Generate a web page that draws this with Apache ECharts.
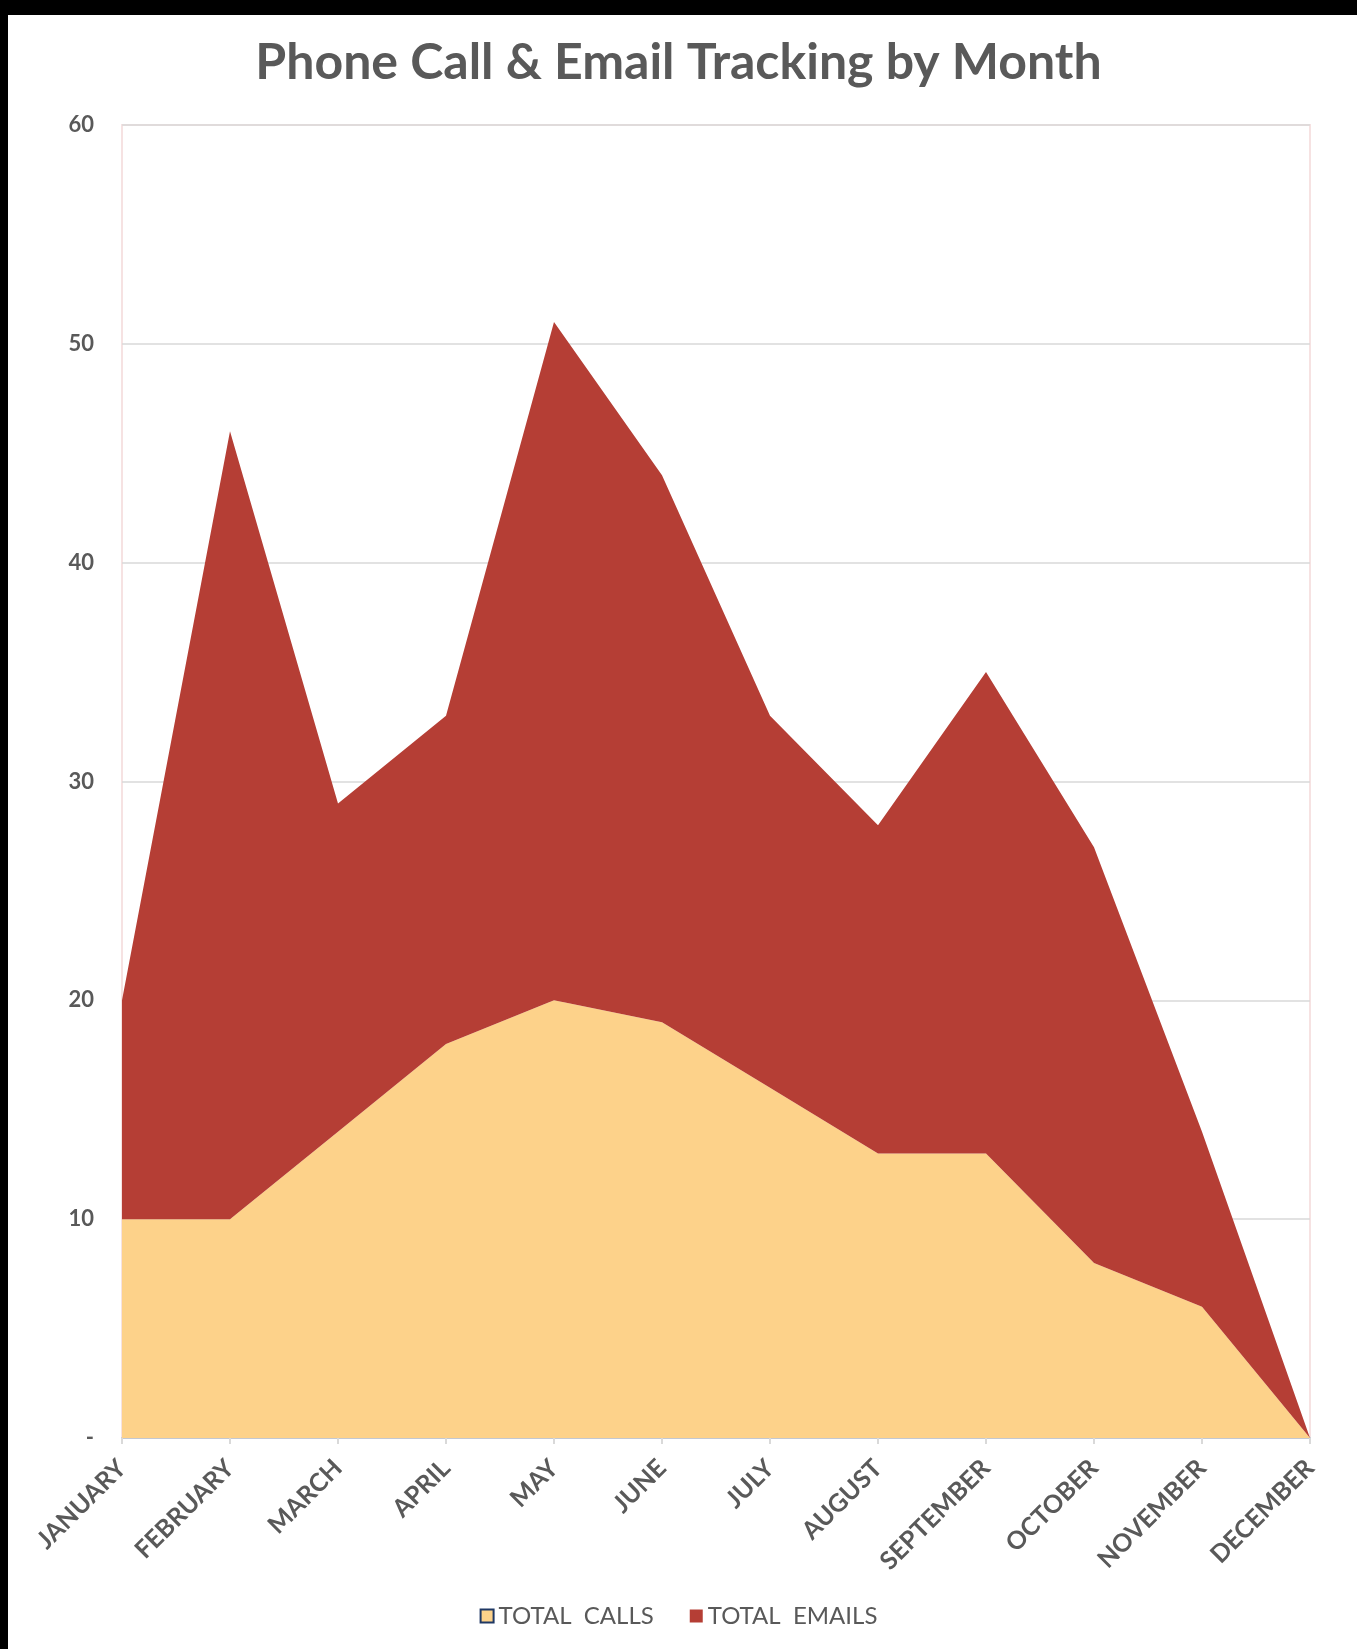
<!DOCTYPE html>
<html>
<head>
<meta charset="utf-8">
<script src="https://cdn.jsdelivr.net/npm/echarts@6/dist/echarts.min.js"></script>
<style>
  html, body { margin: 0; padding: 0; background: #000; }
  .sheet { position: absolute; left: 8px; top: 15px; width: 1349px; height: 1634px; background: #fff; }
  #chart { position: absolute; left: 0; top: 0; width: 1357px; height: 1649px; }
</style>
</head>
<body>
<div class="sheet"></div>
<div id="chart"></div>
<script>
  // months on the x axis
  var months = ['JANUARY', 'FEBRUARY', 'MARCH', 'APRIL', 'MAY', 'JUNE', 'JULY',
    'AUGUST', 'SEPTEMBER', 'OCTOBER', 'NOVEMBER', 'DECEMBER'];
  // (stacked: calls at bottom, emails on top)
  var totalCalls = [10, 10, 14, 18, 20, 19, 16, 13, 13, 8, 6, 0];
  var totalEmails = [10, 36, 15, 15, 31, 25, 17, 15, 22, 19, 8, 0];
  var seriesNames = ['TOTAL  CALLS', 'TOTAL  EMAILS'];

  var grey = '#595959';
  var myChart = echarts.init(document.getElementById('chart'));
  var option = {
    animation: false,
    title: {
      text: 'Phone Call & Email Tracking by Month',
      left: 'center',
      top: 38,
      padding: 0,
      textStyle: { fontFamily: 'Lato', fontWeight: 'bold', fontSize: 50, color: grey }
    },
    legend: {
      bottom: 16,
      left: 'center',
      icon: 'rect',
      itemWidth: 13,
      itemHeight: 13,
      itemGap: 36,
      textStyle: { fontFamily: 'Lato', fontSize: 24, color: grey },
      data: [
        { name: seriesNames[0], itemStyle: { color: '#FDD28A', borderColor: '#1F3864', borderWidth: 2 } },
        { name: seriesNames[1], itemStyle: { color: '#B53E35' } }
      ]
    },
    grid: {
      left: 122, top: 125, right: 47, bottom: 211,
      show: true,
      borderColor: '#F6E2E2',
      borderWidth: 2
    },
    xAxis: {
      type: 'category',
      boundaryGap: false,
      data: months,
      axisLine: { lineStyle: { color: '#C3C8D2', width: 2 } },
      axisTick: { show: true, length: 6, lineStyle: { color: '#D9D9D9', width: 2 } },
      axisLabel: {
        rotate: 45,
        margin: 26,
        interval: 0,
        fontFamily: 'Lato',
        fontWeight: 'bold',
        fontSize: 25,
        color: grey
      },
      splitLine: { show: false }
    },
    yAxis: {
      type: 'value',
      min: 0,
      max: 60,
      interval: 10,
      axisLine: { show: false },
      axisTick: { show: false },
      axisLabel: {
        margin: 28,
        fontFamily: 'Lato',
        fontWeight: 'bold',
        fontSize: 22,
        color: grey,
        formatter: function (v) { return v === 0 ? '-' : v; }
      },
      splitLine: { lineStyle: { color: '#D9D9D9', width: 1.5 } }
    },
    series: [
      {
        name: seriesNames[0],
        type: 'line',
        stack: 'total',
        showSymbol: false,
        lineStyle: { width: 0 },
        itemStyle: { color: '#FDD28A' },
        areaStyle: { color: '#FDD28A', opacity: 1 },
        data: totalCalls
      },
      {
        name: seriesNames[1],
        type: 'line',
        stack: 'total',
        showSymbol: false,
        lineStyle: { width: 0 },
        itemStyle: { color: '#B53E35' },
        areaStyle: { color: '#B53E35', opacity: 1 },
        data: totalEmails
      }
    ]
  };
  myChart.setOption(option);
</script>
</body>
</html>
